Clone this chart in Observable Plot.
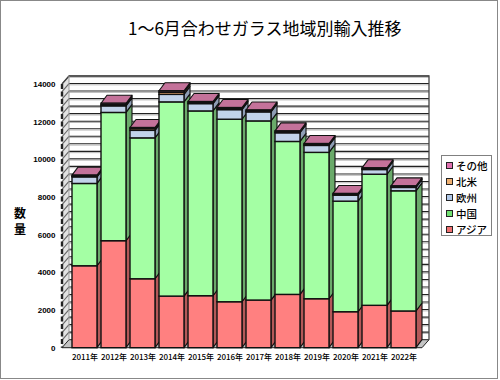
<!DOCTYPE html>
<html><head><meta charset="utf-8">
<script src="https://cdn.jsdelivr.net/npm/d3@7"></script>
<script src="https://cdn.jsdelivr.net/npm/@observablehq/plot@0.6"></script>
<style>
body{margin:0;background:#fff;}
#wrap{position:relative;width:500px;height:380px;font-family:"Noto Sans CJK JP","Noto Sans",sans-serif;overflow:hidden;}
#chart{position:absolute;left:0;top:0;}
#title{position:absolute;left:128px;top:15px;font-size:17px;color:#000;white-space:nowrap;}
.yl{position:absolute;left:14px;font-size:12px;font-weight:bold;line-height:13px;color:#000;}
#legend{position:absolute;left:441px;top:155px;width:51px;height:81px;border:1px solid #808080;background:#fff;box-sizing:border-box;padding-top:1px;}
.li{display:flex;align-items:center;height:16.2px;font-size:10.5px;font-weight:500;color:#000;}
.sw{width:5px;height:5px;border:1px solid #222;margin:0 3px 0 4px;}
#border{position:absolute;left:0;top:0;width:496px;height:377px;border:1px solid #888;}
</style></head><body>
<div id="wrap">
<div id="chart"></div>
<div id="border"></div>
<div id="title">1～6月合わせガラス地域別輸入推移</div>
<div class="yl" style="top:206px">数</div>
<div class="yl" style="top:222px">量</div>
<div id="legend"></div>
</div>
<script>
const years = ["2011","2012","2013","2014","2015","2016","2017","2018","2019","2020","2021","2022"];
const regions = ["アジア","中国","欧州","北米","その他"];
const asia    = [4350, 5680, 3660, 2740, 2760, 2440, 2530, 2830, 2600, 1910, 2250, 1950];
const china   = [4370, 6810, 7480, 10310, 9810, 9690, 9510, 8120, 7770, 5870, 6960, 6380];
const europe  = [350, 350, 400, 400, 390, 510, 480, 460, 370, 320, 250, 180];
const namerica= [30, 60, 90, 110, 40, 40, 40, 40, 40, 30, 40, 30];
const other   = [60, 80, 60, 80, 70, 70, 60, 60, 60, 60, 50, 50];
const yTickLabels = [0, 2000, 4000, 6000, 8000, 10000, 12000, 14000];
const minorStep = 400;

const frontColors = ["#FF8080", "#A4FFA4", "#C2D3EA", "#E8A870", "#CC7A9E"];
const sideColors  = ["#B45858", "#6AAA6A", "#8E9DB4", "#A87850", "#9C5676"];
const topColors   = ["#FF9999", "#B8FFB8", "#D5E2F2", "#F0BE90", "#C4729A"];
const legendColors= ["#F07070", "#70E070", "#B0C8E8", "#F0B070", "#E070B0"];

const series = [asia, china, europe, namerica, other];
const table = [];
years.forEach((yr, i) => regions.forEach((r, k) => table.push({year: yr, region: r, value: series[k][i]})));

const DX = 6, DY = 8;      // bar depth
const WX = 7, WY = 8;      // wall depth

function walls(index, scales, values, dims) {
  const sx = scales.x, sy = scales.y;
  const [r0, r1] = sx.range ? sx.range() : [63, 424];
  const left = dims.marginLeft, right = r1 - 2;
  const y0 = sy(0), yT = sy(14000);
  const g = d3.create("svg:g");
  g.append("rect").attr("x", left + WX).attr("y", yT - WY).attr("width", right - left).attr("height", y0 - yT)
    .attr("fill", "#fff");
  g.append("path").attr("d", `M${left},${y0}L${left},${yT}L${left+WX},${yT-WY}L${left+WX},${y0-WY}Z`).attr("fill", "#e2e2e2");
  g.append("path").attr("d", `M${left},${y0}L${right},${y0}L${right+WX},${y0-WY}L${left+WX},${y0-WY}Z`)
    .attr("fill", "#c4c4c4").attr("stroke", "#222").attr("stroke-width", 1);
  const ticks = d3.range(minorStep, 14000 + 1, minorStep);
  ticks.forEach((v, j) => {
    const y = sy(v);
    g.append("line").attr("x1", left + WX).attr("x2", right + WX).attr("y1", y - WY).attr("y2", y - WY)
      .attr("stroke", "#222").attr("stroke-width", 1.1);
    g.append("line").attr("x1", left + WX).attr("x2", right + WX).attr("y1", y - WY + 1.3).attr("y2", y - WY + 1.3)
      .attr("stroke", "#b8b8b8").attr("stroke-width", 1);
    g.append("line").attr("x1", left).attr("x2", left + WX).attr("y1", y).attr("y2", y - WY)
      .attr("stroke", "#666").attr("stroke-width", 1.1);
  });
  g.append("path").attr("d", `M${left},${yT}L${left+WX},${yT-WY}L${right+WX},${yT-WY}L${right+WX},${y0-WY}`)
    .attr("fill", "none").attr("stroke", "#444").attr("stroke-width", 1.3);
  g.append("line").attr("x1", left + WX).attr("x2", left + WX).attr("y1", yT - WY).attr("y2", y0 - WY)
    .attr("stroke", "#999").attr("stroke-width", 1);
  g.append("line").attr("x1", left).attr("x2", left).attr("y1", yT).attr("y2", y0)
    .attr("stroke", "#222").attr("stroke-width", 2.4).attr("stroke-dasharray", "5,2.5");
  return g.node();
}

function barDepth(index, scales, values, dims) {
  const sx = scales.x, sy = scales.y;
  const bw = typeof sx.bandwidth === "function" ? sx.bandwidth() : sx.bandwidth;
  const g = d3.create("svg:g").attr("stroke", "#111").attr("stroke-width", 1.1).attr("stroke-linejoin", "round");
  years.forEach((yr, i) => {
    const x = sx(yr) + bw;
    let cum = 0;
    series.forEach((s, k) => {
      const a = sy(cum), b = sy(cum + s[i]);
      cum += s[i];
      g.append("path").attr("d", `M${x},${b}L${x+DX},${b-DY}L${x+DX},${a-DY}L${x},${a}Z`).attr("fill", sideColors[k]);
    });
    const t = sy(cum), xl = sx(yr);
    g.append("path").attr("d", `M${xl},${t}L${xl+DX},${t-DY}L${x+DX},${t-DY}L${x},${t}Z`).attr("fill", topColors[series.length - 1]);
  });
  return g.node();
}

const chart = Plot.plot({
  width: 500, height: 380,
  marginLeft: 62, marginBottom: 32, marginTop: 70, marginRight: 70,
  style: {background: "transparent", fontFamily: "'Liberation Sans', Arial, sans-serif"},
  x: {type: "band", domain: years, range: [63, 424], paddingInner: 0.14, paddingOuter: 0.12},
  y: {domain: [0, 14000], range: [347.7, 84]},
  color: {domain: regions, range: frontColors},
  marks: [
    walls,
    barDepth,
    Plot.barY(table, {x: "year", y: "value", fill: "region", stroke: "#111", strokeWidth: 1.4, order: null}),
    Plot.axisY({ticks: yTickLabels, tickSize: 0, tickPadding: 7, fontSize: 8, fontWeight: 600, tickFormat: d => String(d), label: null}),
    Plot.axisX({tickSize: 0, tickPadding: 6, fontSize: 8, fontWeight: 500, tickFormat: d => d + "年", label: null, fontFamily: "'Noto Sans CJK JP', sans-serif"})
  ]
});
document.getElementById("chart").appendChild(chart);

const leg = document.getElementById("legend");
for (let k = regions.length - 1; k >= 0; k--) {
  const row = document.createElement("div");
  row.className = "li";
  row.innerHTML = `<span class="sw" style="background:${legendColors[k]}"></span><span>${regions[k]}</span>`;
  leg.appendChild(row);
}
</script>
</body></html>
